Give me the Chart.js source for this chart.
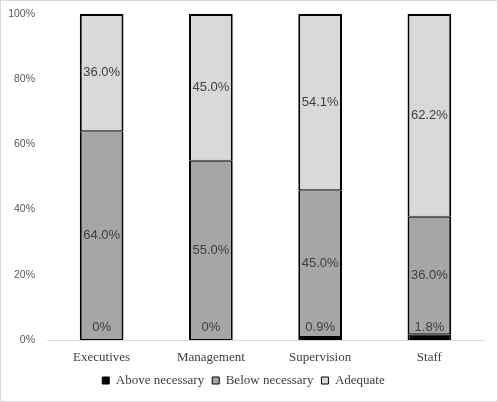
<!DOCTYPE html>
<html>
<head>
<meta charset="utf-8">
<script src="https://cdn.jsdelivr.net/npm/chart.js@4"></script>
<style>
  html, body { margin: 0; padding: 0; background: #fff; }
  #wrap { width: 496px; height: 400px; border: 1px solid #d9d9d9; position: relative; }
</style>
</head>
<body>
<div id="wrap"><canvas id="chart" width="496" height="400"></canvas></div>
<script>
// categories and series (percent of respondents)
const categories = ["Executives", "Management", "Supervision", "Staff"];
const aboveNecessary = [0, 0, 0.9, 1.8];
const belowNecessary = [64.0, 55.0, 45.0, 36.0];
const adequate = [36.0, 45.0, 54.1, 62.2];
const yTicks = [0, 20, 40, 60, 80, 100];

function fmt(v) {
    return v === 0 ? "0%" : v.toFixed(1) + "%";
}

// draws the value labels on each segment
const segmentLabels = {
    id: "segmentLabels",
    afterDatasetsDraw(chart) {
        const ctx = chart.ctx;
        ctx.save();
        ctx.font = "13px 'Liberation Sans', Arial, sans-serif";
        ctx.fillStyle = "#404040";
        ctx.textAlign = "center";
        ctx.textBaseline = "middle";
        chart.data.datasets.forEach((ds, i) => {
            const meta = chart.getDatasetMeta(i);
            meta.data.forEach((bar, j) => {
                const v = ds.data[j];
                const y = i === 0 ? bar.base - 13 : (bar.y + bar.base) / 2;
                ctx.fillText(fmt(v), bar.x, y);
            });
        });
        ctx.restore();
    }
};

const common = {
    borderColor: "#000000",
    borderSkipped: false,
    barPercentage: 0.4,
    categoryPercentage: 1.0
};

new Chart(document.getElementById("chart").getContext("2d"), {
    type: "bar",
    data: {
        labels: categories,
        datasets: [
            Object.assign({ label: "Above necessary", data: aboveNecessary, backgroundColor: "#000000",
                borderWidth: { left: 2, right: 2, top: 1, bottom: 0 } }, common),
            Object.assign({ label: "Below necessary", data: belowNecessary, backgroundColor: "#a6a6a6",
                borderWidth: { left: 2, right: 2, top: 1, bottom: 1 } }, common),
            Object.assign({ label: "Adequate", data: adequate, backgroundColor: "#d9d9d9",
                borderWidth: { left: 2, right: 2, top: 2, bottom: 1 } }, common)
        ]
    },
    options: {
        responsive: false,
        animation: false,
        layout: { padding: { top: 13, right: 13, bottom: 4, left: 2 } },
        plugins: {
            tooltip: { enabled: false },
            legend: {
                position: "bottom",
                labels: {
                    boxWidth: 7,
                    boxHeight: 7,
                    padding: 8,
                    color: "#404040",
                    font: { family: "'Liberation Serif', 'Times New Roman', serif", size: 13 },
                    generateLabels(chart) {
                        return chart.data.datasets.map((ds, i) => ({
                            text: ds.label,
                            fillStyle: ds.backgroundColor,
                            strokeStyle: "#000000",
                            lineWidth: 1,
                            fontColor: "#404040",
                            datasetIndex: i
                        }));
                    }
                }
            }
        },
        scales: {
            x: {
                stacked: true,
                grid: { display: false },
                border: { display: true, color: "#d9d9d9", width: 1 },
                ticks: {
                    color: "#404040",
                    padding: 2,
                    font: { family: "'Liberation Serif', 'Times New Roman', serif", size: 13 }
                },
                afterFit(scale) { scale.height = 26; }
            },
            y: {
                stacked: true,
                min: 0,
                max: 100,
                grid: { display: false },
                border: { display: false },
                afterBuildTicks(scale) {
                    scale.ticks = yTicks.map(v => ({ value: v }));
                },
                ticks: {
                    color: "#595959",
                    padding: 4,
                    font: { family: "'Liberation Sans', Arial, sans-serif", size: 10.5 },
                    callback: v => v + "%"
                },
                afterFit(scale) { scale.width = 44; }
            }
        }
    },
    plugins: [segmentLabels]
});
</script>
</body>
</html>
